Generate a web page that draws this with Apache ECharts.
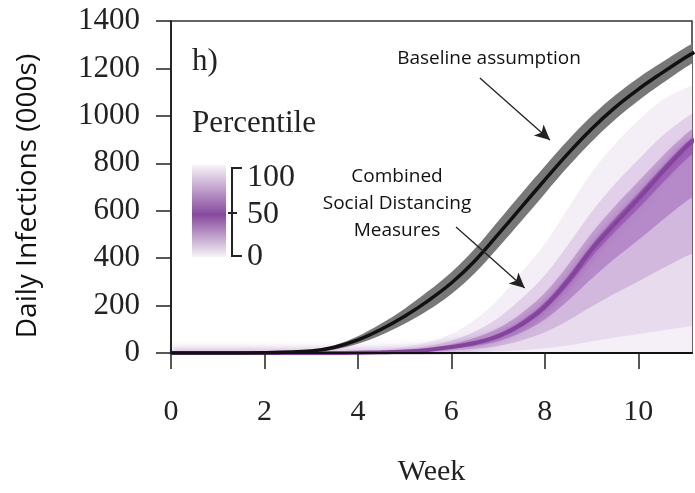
<!DOCTYPE html>
<html>
<head>
<meta charset="utf-8">
<script src="https://cdn.jsdelivr.net/npm/echarts@6/dist/echarts.min.js"></script>
<style>
  html, body { margin: 0; padding: 0; background: #fff; }
  #chart { width: 695px; height: 493px; }
</style>
</head>
<body>
<div id="chart"></div>
<script>
// weeks
var weeks = [0, 1, 2, 3, 3.5, 4, 4.5, 5, 5.5, 6, 6.5, 7, 7.5, 8, 8.5, 9, 9.5, 10, 10.5, 11, 11.2];

// baseline assumption (black line) and its grey band, daily infections in 000s
var baseline = [0, 0, 1, 8, 24, 55, 100, 155, 220, 295, 388, 500, 615, 730, 842, 945, 1035, 1112, 1180, 1245, 1268];
var baseLow = [0, 0, 1, 4, 15, 39, 76, 123, 180, 249, 336, 444, 557, 672, 786, 891, 984, 1064, 1135, 1203, 1227];
var baseHigh = [0, 0, 1, 12, 33, 71, 124, 187, 260, 341, 440, 556, 673, 788, 898, 999, 1086, 1160, 1225, 1287, 1309];

// combined social distancing measures, percentile curves
var q100 = [0, 0, 0, 1, 2, 4, 12, 25, 45, 80, 140, 225, 340, 460, 610, 760, 880, 980, 1065, 1115, 1130];
var q85 = [0, 0, 0, 1, 1, 3, 8, 16, 29, 53, 91, 148, 230, 328, 458, 595, 713, 815, 913, 990, 1015];
var q65 = [0, 0, 0, 0, 0, 2, 5, 10, 20, 37, 64, 104, 168, 253, 372, 505, 619, 723, 827, 920, 951];
var q55 = [0, 0, 0, 0, 0, 1, 4, 7, 15, 29, 49, 81, 135, 214, 326, 455, 568, 673, 781, 882, 916];
var q50 = [0, 0, 0, 0, 0, 1, 3, 6, 13, 25, 42, 70, 120, 195, 305, 435, 545, 650, 760, 865, 900];
var q45 = [0, 0, 0, 0, 0, 1, 3, 6, 12, 23, 39, 65, 112, 182, 285, 405, 511, 609, 713, 812, 844];
var q30 = [0, 0, 0, 0, 0, 1, 2, 4, 9, 18, 30, 50, 86, 141, 221, 313, 398, 476, 558, 636, 662];
var q15 = [0, 0, 0, 0, 0, 0, 1, 2, 5, 11, 18, 30, 53, 87, 137, 196, 251, 302, 355, 406, 423];
var q0 = [0, 0, 0, 0, 0, 0, 0, 0, 1, 2, 4, 7, 12, 20, 32, 48, 65, 80, 95, 110, 115];

var xTicks = [0, 2, 4, 6, 8, 10];
var yTicks = [0, 200, 400, 600, 800, 1000, 1200, 1400];
var legendTicks = ["100", "50", "0"];

var serif = "Liberation Serif";
var sans = "Open Sans";

function pts(ys) {
  return weeks.map(function (w, i) {
    return [w, ys[i]];
  });
}

// filled area from the curve down to zero; later ones paint over earlier ones
function band(ys, color) {
  return {
    type: "line",
    data: pts(ys),
    smooth: 0.35,
    symbol: "none",
    silent: true,
    lineStyle: { width: 0 },
    areaStyle: { color: color, opacity: 1 },
  };
}

var chart = echarts.init(document.getElementById("chart"));

chart.setOption({
  animation: false,
  grid: {
    left: 171,
    right: 3,
    top: 21,
    bottom: 140,
    outerBoundsMode: "none",
    show: true,
    borderColor: "#333",
    borderWidth: 1.5,
    backgroundColor: "transparent",
  },
  xAxis: {
    type: "value",
    min: 0,
    max: 11.15,
    interval: 2,
    z: 10,
    name: "Week",
    nameLocation: "middle",
    nameGap: 104,
    nameTextStyle: { fontFamily: serif, fontSize: 30, color: "#222" },
    axisLine: { lineStyle: { color: "#111", width: 2 } },
    axisTick: { length: 16, customValues: xTicks, lineStyle: { color: "#222", width: 1.5 } },
    axisLabel: { fontFamily: serif, fontSize: 30, color: "#222", margin: 44, customValues: xTicks },
    splitLine: { show: false },
  },
  yAxis: {
    type: "value",
    min: yTicks[0],
    max: yTicks[yTicks.length - 1],
    interval: 200,
    z: 10,
    axisLine: { show: true, lineStyle: { color: "#111", width: 1.5 } },
    axisTick: { length: 15, lineStyle: { color: "#222", width: 1.5 } },
    axisLabel: {
      fontFamily: serif,
      fontSize: 31,
      color: "#222",
      margin: 31,
      formatter: function (v) {
        return String(v);
      },
    },
    splitLine: { show: false },
  },
  series: [
    // grey uncertainty band of the baseline: grey up to the high edge, white back below the low edge
    band(baseHigh, "#787878"),
    band(baseLow, "#ffffff"),
    band(q100, "#f4eef7"),
    band(q85, "#e2d0ea"),
    band(q65, "#c4a0d3"),
    band(q55, "#a066b8"),
    band(q45, "#b68ac8"),
    band(q30, "#d2b8dd"),
    band(q15, "#e7dbed"),
    band(q0, "#f5f0f8"),
    {
      type: "line",
      data: pts(q50),
      smooth: 0.35,
      symbol: "none",
      silent: true,
      lineStyle: {
        color: "#84449d",
        width: 4,
        shadowBlur: 8,
        shadowColor: "rgba(132,68,157,0.8)",
      },
    },
    {
      type: "line",
      data: pts(baseline),
      smooth: 0.35,
      symbol: "none",
      silent: true,
      lineStyle: { color: "#111", width: 3.5 },
      markLine: {
        silent: true,
        symbol: ["none", "arrow"],
        symbolSize: [11, 15],
        label: { show: false },
        lineStyle: { color: "#222", width: 1.3, type: "solid" },
        data: [
          [{ coord: [6.61, 1160] }, { coord: [8.11, 898] }],
          [{ coord: [6.1, 531] }, { coord: [7.57, 274] }],
        ],
      },
    },
  ],
  graphic: [
    {
      type: "text",
      x: 28,
      y: 196,
      rotation: Math.PI / 2,
      style: {
        text: "Daily Infections (000s)",
        font: "28px " + sans,
        fill: "#111",
        textAlign: "center",
        textVerticalAlign: "middle",
      },
    },
    {
      type: "text",
      left: 192,
      top: 46,
      style: { text: "h)", font: "31px " + serif, fill: "#222" },
    },
    {
      type: "text",
      left: 192,
      top: 108,
      style: { text: "Percentile", font: "31px " + serif, fill: "#222" },
    },
    {
      type: "rect",
      shape: { x: 192, y: 165, width: 34, height: 92 },
      style: {
        fill: {
          type: "linear",
          x: 0, y: 0, x2: 0, y2: 1,
          colorStops: [
            { offset: 0, color: "rgba(128,64,152,0.06)" },
            { offset: 0.54, color: "rgba(128,64,152,0.95)" },
            { offset: 1, color: "rgba(128,64,152,0.06)" },
          ],
        },
      },
    },
    {
      type: "polyline",
      shape: { points: [[242, 168], [232, 168], [232, 256], [242, 256]] },
      style: { stroke: "#222", lineWidth: 2, fill: null },
    },
    {
      type: "line",
      shape: { x1: 228, y1: 213, x2: 237, y2: 213 },
      style: { stroke: "#222", lineWidth: 2 },
    },
    {
      type: "text",
      left: 247,
      top: 162,
      style: { text: legendTicks[0], font: "32px " + serif, fill: "#222" },
    },
    {
      type: "text",
      left: 247,
      top: 199,
      style: { text: legendTicks[1], font: "32px " + serif, fill: "#222" },
    },
    {
      type: "text",
      left: 247,
      top: 241,
      style: { text: legendTicks[2], font: "32px " + serif, fill: "#222" },
    },
    {
      type: "text",
      x: 489,
      y: 59,
      style: {
        text: "Baseline assumption",
        font: "19px " + sans,
        fill: "#111",
        textAlign: "center",
        textVerticalAlign: "middle",
      },
    },
    {
      type: "text",
      x: 397,
      y: 204,
      style: {
        text: "Combined\nSocial Distancing\nMeasures",
        font: "19px " + sans,
        lineHeight: 27,
        fill: "#111",
        textAlign: "center",
        textVerticalAlign: "middle",
      },
    },
  ],
});
</script>
</body>
</html>
